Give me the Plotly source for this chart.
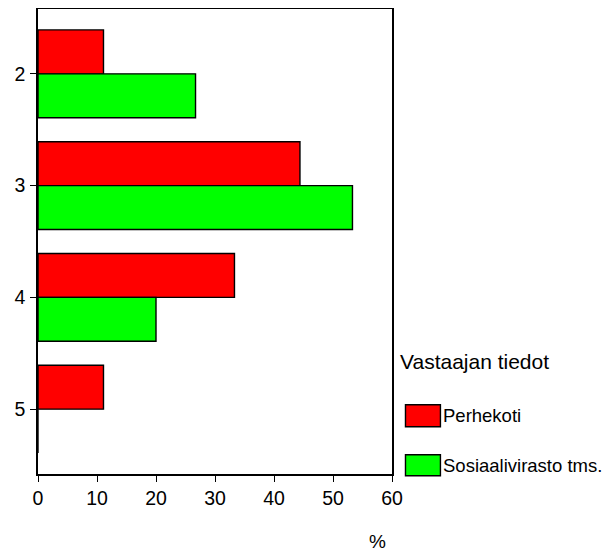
import plotly.graph_objects as go

categories = ["2", "3", "4", "5"]
perhekoti = [11.1, 44.4, 33.3, 11.1]
sosiaalivirasto = [26.7, 53.3, 20.0, 0.0]
series_names = ["Perhekoti", "Sosiaalivirasto tms."]
x_ticks = [0, 10, 20, 30, 40, 50, 60]
legend_title = "Vastaajan tiedot"
x_title = "%"

OFF = 8  # default body margin of the page
W, H = 615 - OFF, 554 - OFF
# plot area in page pixels: x 38..392.5, y 8.5..474.3
ML, MT = 38 - OFF, 1
MR = W - (392.5 - OFF)
MB = H - (474.3 - OFF)
PW = W - ML - MR
PH = H - MT - MB

def px(x):
    return (x - OFF - ML) / PW

def py(y):
    return (H - MB - (y - OFF)) / PH

FONT = "Liberation Sans, Arial, sans-serif"
RED = "#FF0000"
GREEN = "#00FF00"

fig = go.Figure()
fig.add_trace(go.Bar(y=categories, x=perhekoti, orientation="h", name=series_names[0],
                     marker=dict(color=RED, line=dict(color="black", width=1.4)), showlegend=False))
fig.add_trace(go.Bar(y=categories, x=sosiaalivirasto, orientation="h", name=series_names[1],
                     marker=dict(color=GREEN, line=dict(color="black", width=1.4)), showlegend=False))

fig.update_layout(
    width=W, height=H,
    margin=dict(l=ML, r=MR, t=MT, b=MB, pad=0),
    paper_bgcolor="white", plot_bgcolor="white",
    barmode="group", bargap=0.214, bargroupgap=0,
    font=dict(family=FONT, color="black"),
    xaxis=dict(range=[0, 60], tickvals=x_ticks, ticks="outside", ticklen=6, tickwidth=1.3,
               tickcolor="black", showline=True, linecolor="black", linewidth=1.5, mirror=True,
               showgrid=False, zeroline=False, tickfont=dict(size=19.5, family=FONT),
               automargin=False),
    yaxis=dict(type="category", range=[3.58, -0.58], ticks="outside", ticklen=6, tickwidth=1.3,
               tickcolor="black", showline=True, linecolor="black", linewidth=1.5, mirror=True,
               showgrid=False, zeroline=False, tickfont=dict(size=19.5, family=FONT),
               ticklabelstandoff=1, automargin=False),
)

# x-axis title
fig.add_annotation(text=x_title, xref="paper", yref="paper", x=px(378), y=py(542),
                   showarrow=False, font=dict(size=19, family=FONT), xanchor="center", yanchor="middle")

# legend (drawn manually)
fig.add_annotation(text=legend_title, xref="paper", yref="paper", x=px(399), y=py(362),
                   showarrow=False, font=dict(size=21, family=FONT), xanchor="left", yanchor="middle")
for name, col, (y0, y1) in zip(series_names, [RED, GREEN], [(405, 427), (455, 476)]):
    fig.add_shape(type="rect", xref="paper", yref="paper", x0=px(406), x1=px(441), y0=py(y1), y1=py(y0),
                  fillcolor=col, line=dict(color="black", width=1.4))
    fig.add_annotation(text=name, xref="paper", yref="paper", x=px(442), y=py((y0 + y1) / 2),
                       showarrow=False, font=dict(size=18.5, family=FONT), xanchor="left", yanchor="middle")

fig.write_html("out.html")
